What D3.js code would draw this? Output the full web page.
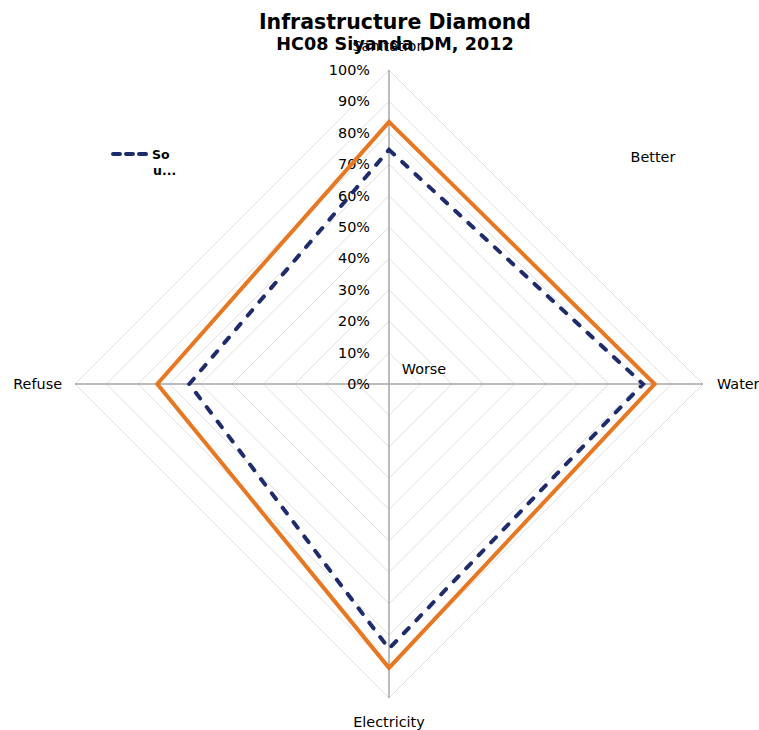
<!DOCTYPE html>
<html><head><meta charset="utf-8">
<script src="https://cdn.jsdelivr.net/npm/d3@7/dist/d3.min.js"></script>
<style>body{margin:0;background:#fff}svg{display:block}text{font-family:"DejaVu Sans",Verdana,sans-serif}</style>
</head><body><svg id="c" width="759" height="730"></svg>
<script>
const axes = ["Sanitation", "Water", "Electricity", "Refuse"];
const seriesNames = ["South Africa", "HC08 Siyanda DM"];
const southAfrica = [74.6, 80.9, 84.3, 63.6];
const siyanda = [83.5, 84.6, 90.4, 73.8];
const ticks = [0, 10, 20, 30, 40, 50, 60, 70, 80, 90, 100];
const tickLabels = ticks.map(t => t + "%");

const svg = d3.select("#c");
const cx = 389, cy = 384, R = 314;
const fs = 14.4;
const r = d3.scaleLinear().domain([0, 100]).range([0, R]);
const ang = d3.scalePoint().domain(axes).range([0, 3 * Math.PI / 2]);
const pt = (a, v) => [cx + r(v) * Math.sin(ang(a)), cy - r(v) * Math.cos(ang(a))];

// grid rings
const g = svg.append("g");
ticks.filter(t => t > 0).forEach(t => {
  g.append("path")
    .attr("d", d3.line()(axes.map(a => pt(a, t))) + "Z")
    .attr("fill", "none").attr("stroke", "#e0e0e0").attr("stroke-width", 1);
});
// spokes
axes.forEach(a => {
  const [x, y] = pt(a, 100);
  g.append("line").attr("x1", cx).attr("y1", cy).attr("x2", x).attr("y2", y)
    .attr("stroke", "#a6a6a6").attr("stroke-width", 1.5);
});

// tick labels
ticks.forEach((t, i) => {
  svg.append("text").attr("x", 370).attr("y", cy - r(t) + 5)
    .attr("text-anchor", "end").attr("font-size", fs).attr("fill", "#000").text(tickLabels[i]);
});

// axis labels
const labelPos = {
  Sanitation: {dx: 0, dy: -19, anchor: "middle"},
  Water: {dx: 14, dy: 5, anchor: "start"},
  Electricity: {dx: 0, dy: 29, anchor: "middle"},
  Refuse: {dx: -13, dy: 5, anchor: "end"}
};
axes.forEach(a => {
  const [x, y] = pt(a, 100);
  const p = labelPos[a];
  svg.append("text").attr("x", x + p.dx).attr("y", y + p.dy)
    .attr("text-anchor", p.anchor).attr("font-size", fs).attr("fill", "#000").text(a);
});

// series
const line = d3.line().curve(d3.curveLinearClosed);
svg.append("path").attr("d", line(axes.map((a, i) => pt(a, siyanda[i]))))
  .attr("fill", "none").attr("stroke", "#E87722").attr("stroke-width", 4).attr("stroke-linejoin", "miter");
svg.append("path").attr("d", line(axes.map((a, i) => pt(a, southAfrica[i]))))
  .attr("fill", "none").attr("stroke", "#1F2C6B").attr("stroke-width", 4)
  .attr("stroke-dasharray", "7 11").attr("stroke-linecap", "round");

// annotations
svg.append("text").attr("x", 653).attr("y", 162).attr("text-anchor", "middle").attr("font-size", fs).text("Better");
svg.append("text").attr("x", 424).attr("y", 374).attr("text-anchor", "middle").attr("font-size", fs).text("Worse");

// titles
svg.append("text").attr("x", 395).attr("y", 29).attr("text-anchor", "middle").attr("font-size", 20.5).attr("font-weight", "bold").text("Infrastructure Diamond");
svg.append("text").attr("x", 395).attr("y", 50).attr("text-anchor", "middle").attr("font-size", 17.6).attr("font-weight", "bold").text("HC08 Siyanda DM, 2012");

// legend
svg.append("line").attr("x1", 113).attr("y1", 154).attr("x2", 148).attr("y2", 154)
  .attr("stroke", "#1F2C6B").attr("stroke-width", 4).attr("stroke-dasharray", "7 6").attr("stroke-linecap", "round");
svg.append("text").attr("x", 152).attr("y", 159).attr("font-size", 12.5).attr("font-weight", "bold").text("So");
svg.append("text").attr("x", 153).attr("y", 175).attr("font-size", 12.5).attr("font-weight", "bold").text("u...");
</script></body></html>
